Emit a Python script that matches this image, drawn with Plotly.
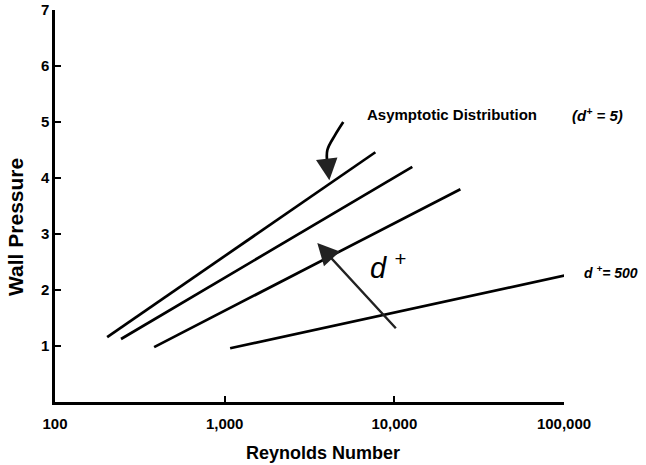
import math
import plotly.graph_objects as go

# Data
line_x = [[203, 7730], [245, 12760], [384, 24500], [1077, 117000]]
line_y = [[1.16, 4.46], [1.125, 4.20], [0.98, 3.80], [0.96, 2.30]]

# curved pointer to the asymptotic distribution
curve_x = [5000, 4480, 4030, 4030]
curve_y = [5.0, 4.77, 4.5, 4.25]
curve_tip = (4140, 3.96)

# d+ arrow (tail -> tip)
dplus_tail = (10400, 1.29)
dplus_tip = (3515, 2.84)

x_tickvals = [100, 1000, 10000, 100000]
x_ticktext = ["100", "1,000", "10,000", "100,000"]
y_tickvals = [1, 2, 3, 4, 5, 6, 7]

FONT = "Liberation Sans, Arial, sans-serif"
fig = go.Figure()
for xs, ys in zip(line_x, line_y):
    fig.add_trace(go.Scatter(x=xs, y=ys, mode="lines",
                             line=dict(color="black", width=2.7),
                             showlegend=False, hoverinfo="skip", cliponaxis=False))
fig.add_trace(go.Scatter(x=curve_x, y=curve_y, mode="lines",
                         line=dict(color="black", width=2.7, shape="spline"),
                         showlegend=False, hoverinfo="skip"))

L = math.log10
fig.add_annotation(x=L(curve_tip[0]), y=curve_tip[1], ax=L(curve_x[-1]), ay=curve_y[-1],
                   xref="x", yref="y", axref="x", ayref="y", text="",
                   showarrow=True, arrowhead=2, arrowsize=1.8, arrowwidth=2.4,
                   arrowcolor="#222")
fig.add_annotation(x=L(dplus_tip[0]), y=dplus_tip[1], ax=L(dplus_tail[0]), ay=dplus_tail[1],
                   xref="x", yref="y", axref="x", ayref="y", text="",
                   showarrow=True, arrowhead=2, arrowsize=1.8, arrowwidth=2.4,
                   arrowcolor="#222")

fig.add_annotation(x=3.829, y=5.13, xref="x", yref="y", xanchor="left", yanchor="middle",
                   text="<b>Asymptotic Distribution</b>", showarrow=False,
                   font=dict(family=FONT, size=15, color="black"))
fig.add_annotation(x=1.011, y=5.13, xref="paper", yref="y", xanchor="left", yanchor="middle",
                   text="<b><i>(d<sup>+</sup> = 5)</i></b>", showarrow=False,
                   font=dict(family=FONT, size=15, color="black"))
fig.add_annotation(x=3.845, y=2.42, xref="x", yref="y", xanchor="left", yanchor="middle",
                   text="<i>d <sup>+</sup></i>", showarrow=False,
                   font=dict(family=FONT, size=29, color="black"))
fig.add_annotation(x=1.036, y=2.33, xref="paper", yref="y", xanchor="left", yanchor="middle",
                   text="<b><i>d <sup>+</sup>= 500</i></b>", showarrow=False,
                   font=dict(family=FONT, size=14, color="black"))

# axis titles placed as in the reference (slightly off-centre)
fig.add_annotation(x=-0.079, y=0.446, xref="paper", yref="paper", xanchor="center",
                   yanchor="middle", textangle=-90, showarrow=False,
                   text="<b>Wall Pressure</b>", font=dict(family=FONT, size=21, color="black"))
fig.add_annotation(x=0.527, y=-0.130, xref="paper", yref="paper", xanchor="center",
                   yanchor="middle", showarrow=False,
                   text="<b>Reynolds Number</b>", font=dict(family=FONT, size=18, color="black"))

fig.update_layout(
    width=646, height=465,
    margin=dict(l=55, r=82, t=10, b=63),
    paper_bgcolor="white", plot_bgcolor="white",
    font=dict(family=FONT, size=15, color="black"),
    showlegend=False,
    xaxis=dict(type="log", range=[2, 5], tickvals=x_tickvals, ticktext=x_ticktext,
               automargin=False,
               showgrid=False, zeroline=False, showline=True, linecolor="black",
               linewidth=2.5, ticks="inside", ticklen=6, tickwidth=2, tickcolor="black",
               ticklabelstandoff=6,
               tickfont=dict(family=FONT, size=15, color="black", weight="bold")),
    yaxis=dict(range=[0, 7], tickvals=y_tickvals, automargin=False,
               ticklabeloverflow="allow",
               showgrid=False, zeroline=False, showline=True, linecolor="black",
               linewidth=2.5, ticks="inside", ticklen=6, tickwidth=2, tickcolor="black",
               tickfont=dict(family=FONT, size=15, color="black", weight="bold")),
)

# remove the browser's default 8px body margin so the figure fills the window exactly
fig.write_html("out.html", config={"displayModeBar": False},
               post_script="document.body.style.margin='0';")
